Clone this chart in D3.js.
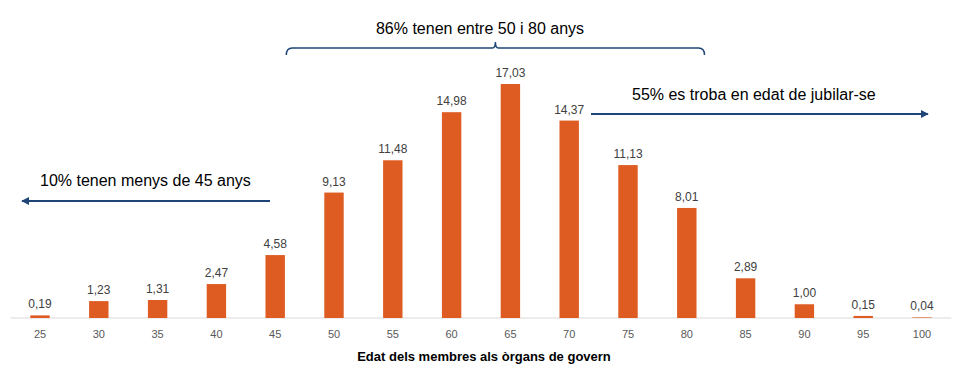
<!DOCTYPE html>
<html>
<head>
<meta charset="utf-8">
<script src="https://cdn.jsdelivr.net/npm/d3@7"></script>
<style>
  body { margin: 0; background: #fff; }
  text { font-family: "Liberation Sans", Arial, sans-serif; }
</style>
</head>
<body>
<svg id="chart" width="955" height="366"></svg>
<script>
// Age groups and share of members (%)
const ages = ["25", "30", "35", "40", "45", "50", "55", "60", "65", "70", "75", "80", "85", "90", "95", "100"];
const shares = [0.19, 1.23, 1.31, 2.47, 4.58, 9.13, 11.48, 14.98, 17.03, 14.37, 11.13, 8.01, 2.89, 1.00, 0.15, 0.04];

const ANNOT_COLOR = "#1f4578";
const BAR_COLOR = "#de5b22";

const svg = d3.select("#chart");

const x = d3.scaleBand()
    .domain(ages)
    .range([10.6, 951.4])
    .paddingInner(0.67)
    .paddingOuter(0.335);

const y = d3.scaleLinear()
    .domain([0, 18])
    .range([318, 70.7]);

// Baseline axis
svg.append("line")
    .attr("x1", x.range()[0]).attr("x2", x.range()[1])
    .attr("y1", y(0)).attr("y2", y(0))
    .attr("stroke", "#d9d9d9").attr("stroke-width", 1);

// Bars
svg.append("g").selectAll("rect")
    .data(ages)
    .join("rect")
    .attr("x", d => x(d))
    .attr("width", x.bandwidth())
    .attr("y", (d, i) => y(shares[i]))
    .attr("height", (d, i) => y(0) - y(shares[i]))
    .attr("fill", BAR_COLOR);

// Value labels (decimal comma)
svg.append("g").selectAll("text")
    .data(ages)
    .join("text")
    .attr("x", d => x(d) + x.bandwidth() / 2)
    .attr("y", (d, i) => y(shares[i]) - 7)
    .attr("text-anchor", "middle")
    .attr("font-size", 12)
    .attr("fill", "#404040")
    .text((d, i) => shares[i].toFixed(2).replace(".", ","));

// Category labels
const xAxis = svg.append("g")
    .attr("transform", `translate(0,${y(0)})`)
    .call(d3.axisBottom(x).tickSize(0).tickPadding(12));
xAxis.select(".domain").remove();
xAxis.selectAll("text")
    .attr("font-size", 11)
    .attr("fill", "#595959")
    .style("font-family", '"Liberation Sans", Arial, sans-serif');

// Axis title
svg.append("text")
    .attr("x", 484).attr("y", 361)
    .attr("text-anchor", "middle")
    .attr("font-size", 13)
    .attr("font-weight", "bold")
    .attr("fill", "#000")
    .text("Edat dels membres als òrgans de govern");

// Arrow marker
svg.append("defs").append("marker")
    .attr("id", "arrow")
    .attr("viewBox", "0 0 10 10")
    .attr("refX", 9).attr("refY", 5)
    .attr("markerWidth", 4).attr("markerHeight", 4)
    .attr("orient", "auto-start-reverse")
    .append("path")
    .attr("d", "M0,0 L10,5 L0,10 Z")
    .attr("fill", ANNOT_COLOR);

// Brace over 50–80
const bx0 = x("50") - 38, bx1 = x("80") + x.bandwidth() + 8;
const bmid = (bx0 + bx1) / 2, by = 48;
svg.append("path")
    .attr("d", `M${bx0},55 Q${bx0},${by} ${bx0 + 6},${by} L${bmid - 3},${by} Q${bmid},${by} ${bmid},${by - 6} Q${bmid},${by} ${bmid + 3},${by} L${bx1 - 6},${by} Q${bx1},${by} ${bx1},55`)
    .attr("fill", "none")
    .attr("stroke", ANNOT_COLOR)
    .attr("stroke-width", 1.5);
svg.append("text")
    .attr("x", 480).attr("y", 34)
    .attr("text-anchor", "middle")
    .attr("font-size", 16)
    .attr("fill", "#000")
    .text("86% tenen entre 50 i 80 anys");

// Left arrow
svg.append("line")
    .attr("x1", 270).attr("x2", 22)
    .attr("y1", 201).attr("y2", 201)
    .attr("stroke", ANNOT_COLOR).attr("stroke-width", 2)
    .attr("marker-end", "url(#arrow)");
svg.append("text")
    .attr("x", 40).attr("y", 186)
    .attr("font-size", 16)
    .attr("fill", "#000")
    .text("10% tenen menys de 45 anys");

// Right arrow
svg.append("line")
    .attr("x1", 591).attr("x2", 928)
    .attr("y1", 114).attr("y2", 114)
    .attr("stroke", ANNOT_COLOR).attr("stroke-width", 2)
    .attr("marker-end", "url(#arrow)");
svg.append("text")
    .attr("x", 632).attr("y", 100)
    .attr("font-size", 16)
    .attr("fill", "#000")
    .text("55% es troba en edat de jubilar-se");
</script>
</body>
</html>
